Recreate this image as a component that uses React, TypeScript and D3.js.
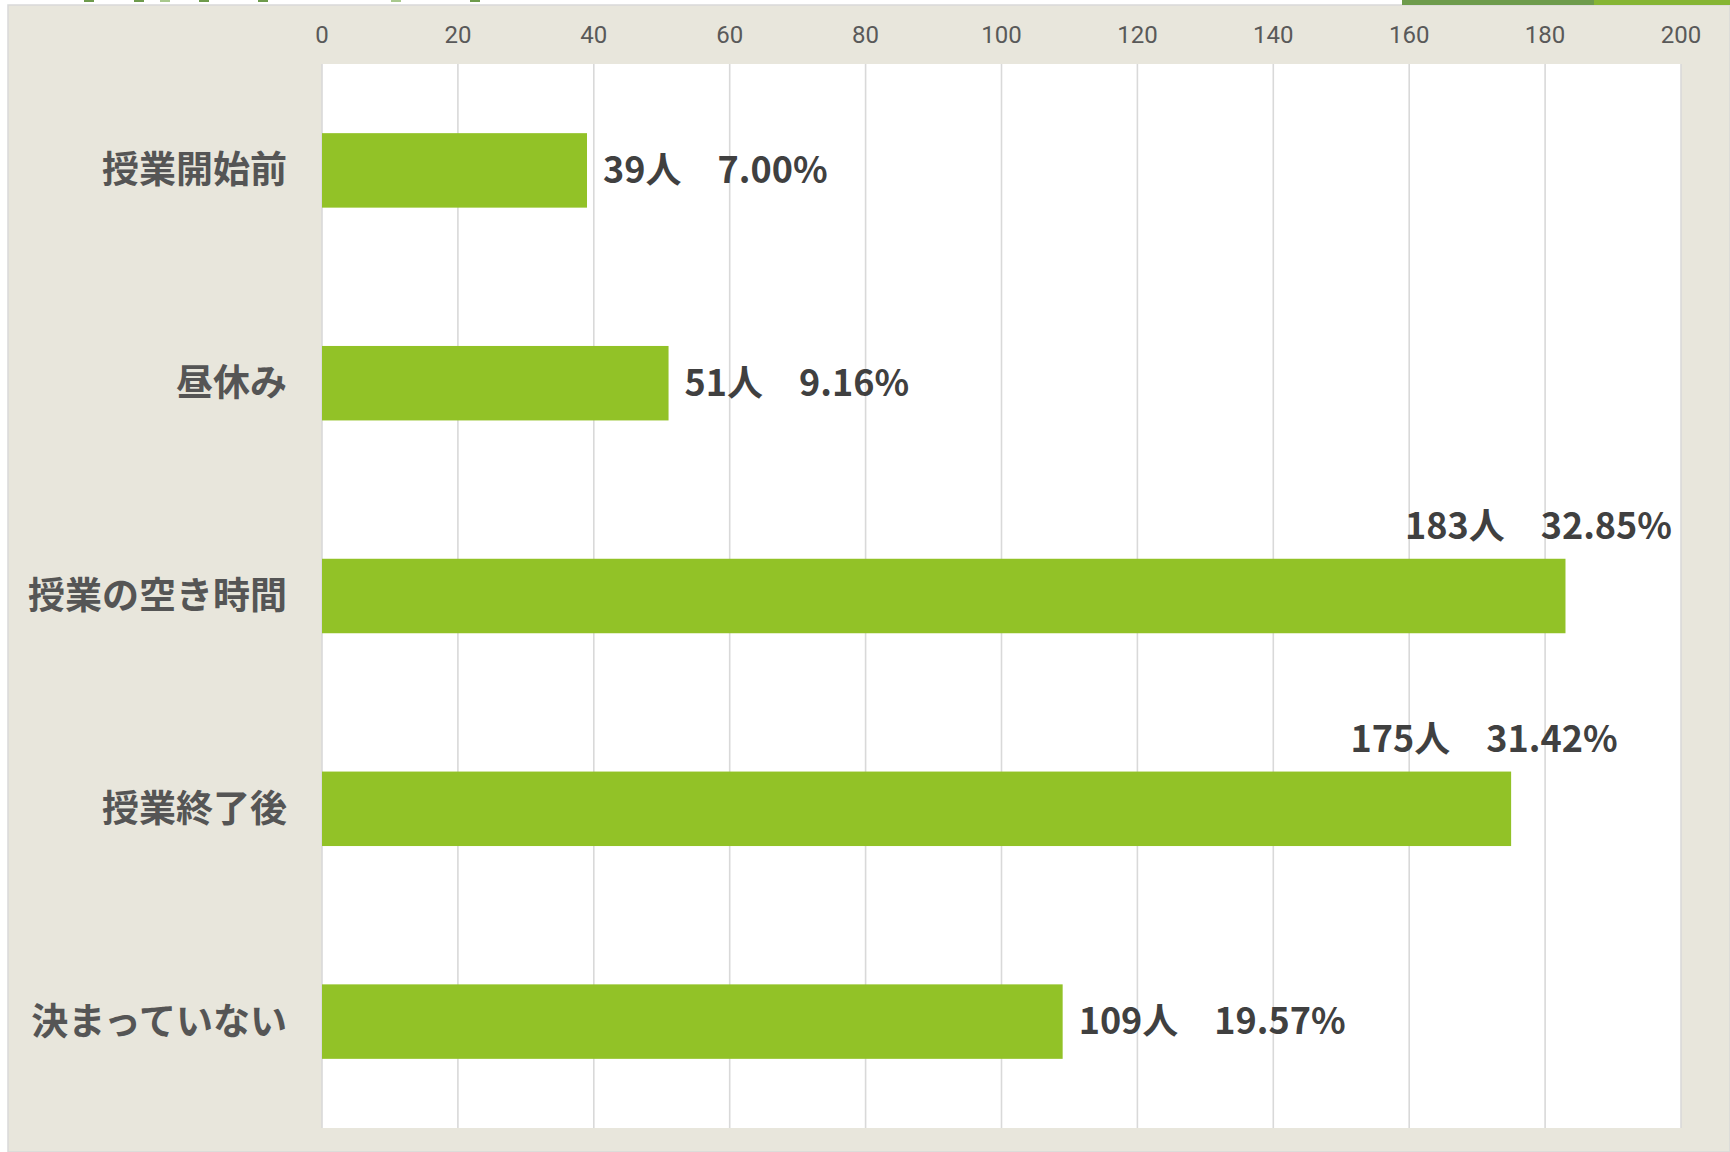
import { useEffect, useRef } from 'react'
import * as d3 from 'd3'

const categories = ['授業開始前', '昼休み', '授業の空き時間', '授業終了後', '決まっていない']
const counts = [39, 51, 183, 175, 109]
const percents = ['7.00%', '9.16%', '32.85%', '31.42%', '19.57%']
const xTicks = [0, 20, 40, 60, 80, 100, 120, 140, 160, 180, 200]

const W = 1730
const H = 1152
const margin = { top: 64, right: 49, bottom: 24, left: 322 }
const BAR = '#92c227'
const BG = '#e8e6dc'
const GRID = '#d9d9d9'

export default function App() {
  const svgRef = useRef<SVGSVGElement>(null)

  useEffect(() => {
    if (!svgRef.current) return
    const svg = d3.select(svgRef.current)
    svg.selectAll('*').remove()

    const innerW = W - margin.left - margin.right
    const innerH = H - margin.top - margin.bottom

    // page strip above the chart box (bits of other slide content)
    svg.append('rect').attr('width', W).attr('height', H).attr('fill', '#ffffff')
    svg.append('rect')
      .attr('x', 8).attr('y', 5)
      .attr('width', W - 8).attr('height', H - 5)
      .attr('fill', BG)
      .attr('stroke', GRID).attr('stroke-width', 1.5)
    const bits = [84, 134, 160, 199, 258, 391, 470]
    svg.selectAll('rect.bit')
      .data(bits)
      .join('rect')
      .attr('class', 'bit')
      .attr('x', d => d).attr('y', 0)
      .attr('width', 10).attr('height', 2)
      .attr('fill', (_, i) => (i === 2 || i === 5 ? '#a9c98e' : '#6e9b4c'))
    svg.append('rect').attr('x', 1402).attr('y', 0).attr('width', 192).attr('height', 5).attr('fill', '#6e9b4c')
    svg.append('rect').attr('x', 1594).attr('y', 0).attr('width', 136).attr('height', 5).attr('fill', '#86b534')

    const x = d3.scaleLinear().domain([0, 200]).range([0, innerW])
    const y = d3.scaleBand<string>()
      .domain(categories)
      .range([0, innerH])
      .paddingInner(0.65)
      .paddingOuter(0.325)

    const g = svg.append('g').attr('transform', `translate(${margin.left},${margin.top})`)

    g.append('rect').attr('width', innerW).attr('height', innerH).attr('fill', '#ffffff')

    g.selectAll('line.grid')
      .data(xTicks)
      .join('line')
      .attr('class', 'grid')
      .attr('x1', d => x(d)).attr('x2', d => x(d))
      .attr('y1', 0).attr('y2', innerH)
      .attr('stroke', GRID)
      .attr('stroke-width', 1.6)

    g.selectAll('text.tick')
      .data(xTicks)
      .join('text')
      .attr('class', 'tick')
      .attr('x', d => x(d))
      .attr('y', -29)
      .attr('dy', '0.35em')
      .attr('text-anchor', 'middle')
      .attr('font-family', 'Roboto, sans-serif')
      .attr('font-size', 24)
      .attr('fill', '#595959')
      .text(d => d)

    g.selectAll('rect.bar')
      .data(categories)
      .join('rect')
      .attr('class', 'bar')
      .attr('x', 0)
      .attr('y', d => y(d)!)
      .attr('width', (_, i) => x(counts[i]))
      .attr('height', y.bandwidth())
      .attr('fill', BAR)

    g.selectAll('text.cat')
      .data(categories)
      .join('text')
      .attr('class', 'cat')
      .attr('x', -35)
      .attr('y', d => y(d)! + y.bandwidth() / 2)
      .attr('dy', '0.35em')
      .attr('text-anchor', 'end')
      .attr('font-family', '"Noto Sans CJK JP", sans-serif')
      .attr('font-weight', 700)
      .attr('font-size', 37)
      .attr('fill', '#555555')
      .text(d => d)

    // data labels: outside end, or above the bar when it would run past the plot
    const labelW = 265
    g.selectAll('text.val')
      .data(categories)
      .join('text')
      .attr('class', 'val')
      .each(function (d, i) {
        const t = d3.select(this)
        const end = x(counts[i])
        const fits = end + 16 + labelW < innerW
        t.attr('x', fits ? end + 16 : end - 27)
          .attr('y', fits ? y(d)! + y.bandwidth() / 2 : y(d)! - 32)
          .attr('text-anchor', fits ? 'start' : 'middle')
      })
      .attr('dy', '0.35em')
      .attr('font-family', '"Noto Sans CJK JP", sans-serif')
      .attr('font-weight', 700)
      .attr('font-size', 36)
      .attr('fill', '#404040')
      .text((_, i) => `${counts[i]}人　${percents[i]}`)
  }, [])

  return (
    <div style={{ position: 'absolute', left: 0, top: 0 }}>
      <svg ref={svgRef} width={W} height={H} style={{ display: 'block' }} />
    </div>
  )
}
